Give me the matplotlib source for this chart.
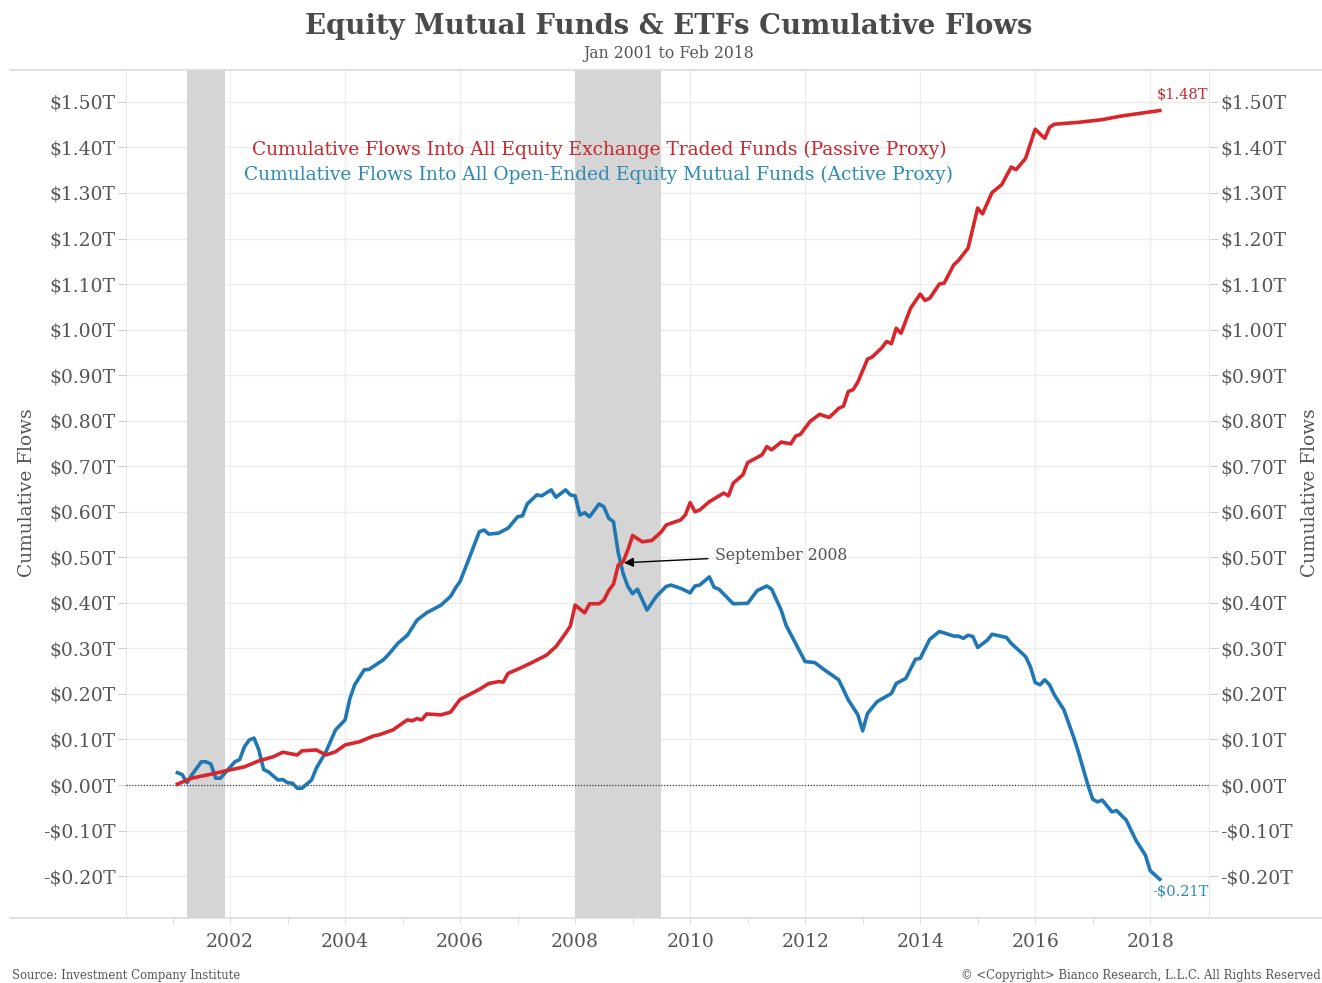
import matplotlib.pyplot as plt
import numpy as np
from matplotlib.lines import Line2D

# Equity mutual funds vs ETFs, cumulative flows (trillions of dollars).

OUTPUT_PATH = "out.png"

ETF_DATES = [
    "2001-01", "2001-04", "2001-09", "2001-11", "2002-03", "2002-06", "2002-09", "2002-11",
    "2003-02", "2003-03", "2003-06", "2003-08", "2003-10", "2003-12", "2004-03", "2004-06",
    "2004-07", "2004-10", "2004-12", "2005-01", "2005-02", "2005-03", "2005-04", "2005-05",
    "2005-08", "2005-09", "2005-10", "2005-11", "2005-12", "2006-04", "2006-06", "2006-08",
    "2006-09", "2006-10", "2007-01", "2007-03", "2007-06", "2007-08", "2007-10", "2007-11",
    "2007-12", "2008-02", "2008-03", "2008-05", "2008-06", "2008-07", "2008-08", "2008-09",
    "2008-10", "2008-11", "2008-12", "2009-02", "2009-04", "2009-06", "2009-07", "2009-10",
    "2009-11", "2009-12", "2010-01", "2010-02", "2010-04", "2010-07", "2010-08", "2010-09",
    "2010-11", "2010-12", "2011-03", "2011-04", "2011-05", "2011-07", "2011-09", "2011-10",
    "2011-11", "2012-01", "2012-03", "2012-05", "2012-07", "2012-08", "2012-09", "2012-10",
    "2012-11", "2013-01", "2013-02", "2013-04", "2013-05", "2013-06", "2013-07", "2013-08",
    "2013-10", "2013-12", "2014-01", "2014-02", "2014-04", "2014-05", "2014-07", "2014-08",
    "2014-10", "2014-12", "2015-01", "2015-03", "2015-05", "2015-07", "2015-08", "2015-10",
    "2015-12", "2016-02", "2016-03", "2016-04", "2016-09", "2017-02", "2017-06", "2017-10",
    "2018-02",
]
ETF_VALUES = [
    0.002, 0.015, 0.026, 0.031, 0.040, 0.053, 0.062, 0.072,
    0.066, 0.075, 0.077, 0.066, 0.073, 0.088, 0.095, 0.108,
    0.110, 0.121, 0.136, 0.143, 0.141, 0.146, 0.143, 0.156,
    0.154, 0.157, 0.160, 0.174, 0.188, 0.210, 0.223, 0.227,
    0.226, 0.245, 0.259, 0.269, 0.285, 0.304, 0.333, 0.349,
    0.395, 0.378, 0.398, 0.398, 0.406, 0.427, 0.441, 0.483,
    0.490, 0.516, 0.548, 0.534, 0.537, 0.556, 0.571, 0.582,
    0.593, 0.620, 0.600, 0.604, 0.622, 0.641, 0.635, 0.663,
    0.681, 0.708, 0.725, 0.743, 0.736, 0.753, 0.749, 0.766,
    0.770, 0.798, 0.814, 0.807, 0.827, 0.832, 0.864, 0.868,
    0.885, 0.935, 0.940, 0.960, 0.974, 0.969, 1.003, 0.992,
    1.047, 1.078, 1.064, 1.069, 1.100, 1.102, 1.142, 1.152,
    1.179, 1.267, 1.254, 1.301, 1.318, 1.357, 1.351, 1.376,
    1.440, 1.420, 1.444, 1.451, 1.455, 1.461, 1.469, 1.475,
    1.481,
]

FUND_DATES = [
    "2001-01", "2001-02", "2001-03", "2001-04", "2001-06", "2001-07", "2001-08", "2001-09",
    "2001-10", "2001-11", "2002-01", "2002-02", "2002-03", "2002-04", "2002-05", "2002-06",
    "2002-07", "2002-08", "2002-10", "2002-11", "2002-12", "2003-01", "2003-02", "2003-03",
    "2003-05", "2003-06", "2003-08", "2003-10", "2003-12", "2004-01", "2004-02", "2004-04",
    "2004-05", "2004-08", "2004-09", "2004-11", "2005-01", "2005-03", "2005-05", "2005-08",
    "2005-10", "2005-11", "2005-12", "2006-02", "2006-04", "2006-05", "2006-06", "2006-08",
    "2006-10", "2006-12", "2007-01", "2007-02", "2007-04", "2007-05", "2007-07", "2007-08",
    "2007-10", "2007-11", "2007-12", "2008-01", "2008-02", "2008-03", "2008-05", "2008-06",
    "2008-07", "2008-08", "2008-09", "2008-10", "2008-11", "2008-12", "2009-01", "2009-03",
    "2009-05", "2009-07", "2009-08", "2009-10", "2009-12", "2010-01", "2010-02", "2010-04",
    "2010-05", "2010-06", "2010-09", "2010-12", "2011-02", "2011-04", "2011-05", "2011-07",
    "2011-08", "2011-10", "2011-12", "2012-02", "2012-04", "2012-07", "2012-09", "2012-11",
    "2012-12", "2013-01", "2013-03", "2013-06", "2013-07", "2013-09", "2013-11", "2013-12",
    "2014-02", "2014-04", "2014-05", "2014-07", "2014-08", "2014-09", "2014-10", "2014-11",
    "2014-12", "2015-02", "2015-03", "2015-06", "2015-07", "2015-10", "2015-11", "2015-12",
    "2016-01", "2016-02", "2016-03", "2016-04", "2016-06", "2016-08", "2016-09", "2016-11",
    "2016-12", "2017-01", "2017-02", "2017-04", "2017-05", "2017-07", "2017-09", "2017-11",
    "2017-12", "2018-02",
]
FUND_VALUES = [
    0.027, 0.023, 0.005, 0.022, 0.051, 0.051, 0.046, 0.015,
    0.015, 0.027, 0.051, 0.056, 0.084, 0.099, 0.103, 0.077,
    0.034, 0.029, 0.011, 0.012, 0.005, 0.004, -0.007, -0.007,
    0.011, 0.037, 0.073, 0.121, 0.143, 0.190, 0.220, 0.253,
    0.254, 0.275, 0.286, 0.311, 0.329, 0.362, 0.378, 0.395,
    0.414, 0.432, 0.447, 0.501, 0.556, 0.560, 0.551, 0.553,
    0.564, 0.589, 0.591, 0.617, 0.637, 0.635, 0.648, 0.632,
    0.648, 0.637, 0.635, 0.593, 0.598, 0.589, 0.617, 0.611,
    0.586, 0.578, 0.510, 0.465, 0.436, 0.420, 0.430, 0.384,
    0.415, 0.436, 0.439, 0.432, 0.422, 0.437, 0.439, 0.457,
    0.434, 0.430, 0.398, 0.399, 0.427, 0.437, 0.430, 0.384,
    0.351, 0.311, 0.271, 0.269, 0.253, 0.231, 0.187, 0.154,
    0.119, 0.157, 0.183, 0.201, 0.223, 0.234, 0.276, 0.278,
    0.320, 0.337, 0.334, 0.327, 0.327, 0.322, 0.329, 0.326,
    0.302, 0.318, 0.331, 0.324, 0.311, 0.282, 0.260, 0.225,
    0.220, 0.231, 0.220, 0.198, 0.165, 0.106, 0.073, 0.000,
    -0.031, -0.037, -0.033, -0.059, -0.056, -0.077, -0.121, -0.154,
    -0.188, -0.207,
]

# Recessions (first and last month)
RECESSIONS = [("2001-03", "2001-11"), ("2007-12", "2009-06")]

YEAR_TICKS = [2002, 2004, 2006, 2008, 2010, 2012, 2014, 2016, 2018]
VALUE_TICKS = [-0.2, -0.1, 0.0, 0.1, 0.2, 0.3, 0.4, 0.5, 0.6, 0.7, 0.8, 0.9, 1.0, 1.1, 1.2, 1.3, 1.4, 1.5]

RED = "#d9262b"
BLUE = "#1f77b4"
RED_TEXT = "#c9252c"
BLUE_TEXT = "#2d8ab5"
TEXT_GRAY = "#555555"
GRID = "#ececec"
SHADE = "#d5d5d5"
FONT = "DejaVu Serif"

W, H = 1322, 983


def to_year(month_str: str) -> float:
    year, month = month_str.split("-")
    return int(year) + int(month) / 12


def money(v: float) -> str:
    if v < 0:
        return f"-${abs(v):.2f}T"
    return f"${v:.2f}T"


def fx(px: float) -> float:
    return px / W


def fy(py: float) -> float:
    return 1 - py / H


def style_axis(ax) -> None:
    ax.set_xlim(2000.19, 2019.04)
    ax.set_ylim(-0.292, 1.570)
    ax.set_yticks(VALUE_TICKS)
    ax.set_yticklabels([money(v) for v in VALUE_TICKS])
    ax.tick_params(axis="y", length=6, width=0.8, color="#cfcfcf", pad=1.5,
                   labelsize=13.5, labelcolor=TEXT_GRAY)
    for spine in ax.spines.values():
        spine.set_visible(False)


def main() -> None:
    plt.rcParams["font.family"] = [FONT, "DejaVu Sans"]
    fig = plt.figure(figsize=(W / 100, H / 100), dpi=100)
    ax = fig.add_axes([fx(126), fy(918), fx(1210) - fx(126), fy(70) - fy(918)])

    etf_x = [to_year(d) for d in ETF_DATES]
    fund_x = [to_year(d) for d in FUND_DATES]

    for start, end in RECESSIONS:
        ax.axvspan(to_year(start), to_year(end), color=SHADE, lw=0, zorder=1)

    for v in VALUE_TICKS:
        if v != 0:
            ax.axhline(v, color=GRID, lw=1, zorder=0)
    for yr in YEAR_TICKS:
        ax.axvline(yr, color=GRID, lw=1, zorder=0)
    ax.axhline(0, color="#333333", lw=0.9, ls=(0, (1, 1.3)), zorder=2)
    ax.axvline(2000.19, color="#e3e3e3", lw=1.2, zorder=0)
    ax.axvline(2019.04, color="#e3e3e3", lw=1.2, zorder=0)

    ax.plot(fund_x, FUND_VALUES, color=BLUE, lw=2.6, solid_joinstyle="round", zorder=3)
    ax.plot(etf_x, ETF_VALUES, color=RED, lw=2.6, solid_joinstyle="round", zorder=4)

    style_axis(ax)
    ax.set_xticks(YEAR_TICKS)
    ax.set_xticklabels([str(y) for y in YEAR_TICKS])
    ax.set_xticks(np.arange(2001, 2019, 2), minor=True)
    ax.tick_params(axis="x", which="both", length=4, width=0.8, color="#dddddd", pad=7,
                   labelsize=13.5, labelcolor=TEXT_GRAY)

    right = ax.twinx()
    style_axis(right)
    right.tick_params(axis="y", labelleft=False, labelright=True, left=False, right=True)

    # end-of-series labels
    ax.text(2018.57, 1.515, money(ETF_VALUES[-1]), color=RED_TEXT, fontsize=10.5,
            ha="center", va="center", zorder=5)
    ax.text(2018.52, -0.235, money(FUND_VALUES[-1]), color=BLUE_TEXT, fontsize=10.5,
            ha="center", va="center", zorder=5)

    ax.annotate(
        "September 2008",
        xy=(2008.85, 0.488),
        xytext=(2010.43, 0.505),
        color=TEXT_GRAY,
        fontsize=11.3,
        ha="left",
        va="center",
        arrowprops=dict(arrowstyle="-|>", color="black", lw=1, shrinkA=3, shrinkB=0,
                        mutation_scale=14),
        zorder=6,
    )

    # full width frame lines
    for py in (70, 918):
        fig.add_artist(Line2D([fx(10), 1], [fy(py), fy(py)], color="#dcdcdc", lw=1.2))

    fig.text(fx(669), fy(27), "Equity Mutual Funds & ETFs Cumulative Flows",
             ha="center", va="center", fontsize=19.8, fontweight="bold", color="#4a4a4a")
    fig.text(fx(669), fy(53), "Jan 2001 to Feb 2018", ha="center", va="center",
             fontsize=11.3, color=TEXT_GRAY)

    fig.text(fx(599), fy(150),
             "Cumulative Flows Into All Equity Exchange Traded Funds (Passive Proxy)",
             ha="center", va="center", fontsize=13.4, color=RED_TEXT)
    fig.text(fx(599), fy(175),
             "Cumulative Flows Into All Open-Ended Equity Mutual Funds (Active Proxy)",
             ha="center", va="center", fontsize=13.4, color=BLUE_TEXT)

    fig.text(fx(27), fy(493), "Cumulative Flows", rotation=90, ha="center", va="center",
             fontsize=13.4, color=TEXT_GRAY)
    fig.text(fx(1310), fy(493), "Cumulative Flows", rotation=90, ha="center", va="center",
             fontsize=13.4, color=TEXT_GRAY)

    fig.text(fx(12), fy(975), "Source: Investment Company Institute", ha="left",
             va="center", fontsize=8.4, color=TEXT_GRAY)
    fig.text(fx(1321), fy(975), "\u00a9 <Copyright> Bianco Research, L.L.C. All Rights Reserved",
             ha="right", va="center", fontsize=8.4, color=TEXT_GRAY)

    fig.savefig(OUTPUT_PATH, dpi=100, facecolor="white")
    plt.close(fig)


if __name__ == "__main__":
    main()
